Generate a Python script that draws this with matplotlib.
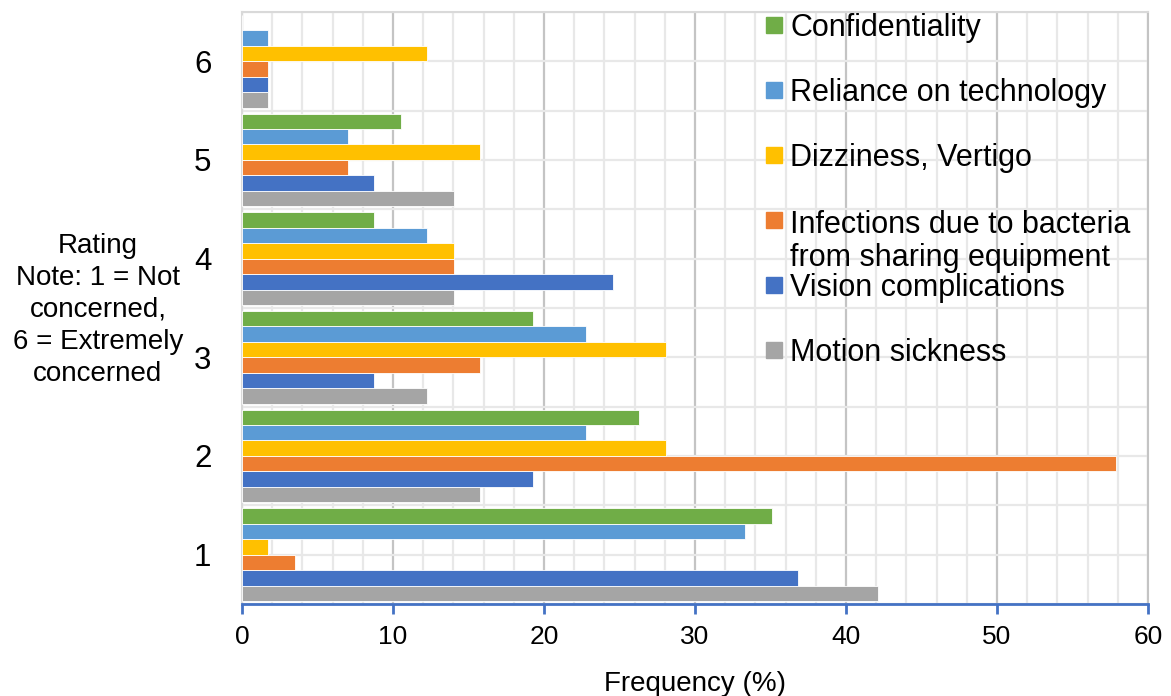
import numpy as np
import matplotlib
matplotlib.use("Agg")
import matplotlib.pyplot as plt
from matplotlib.patches import Rectangle
from matplotlib.ticker import MultipleLocator

plt.rcParams['font.family'] = ['Liberation Sans', 'DejaVu Sans']

ratings = [1, 2, 3, 4, 5, 6]

# series listed bottom-to-top within each rating group
series = [
    "Motion sickness",
    "Vision complications",
    "Infections due to bacteria\nfrom sharing equipment",
    "Dizziness, Vertigo",
    "Reliance on technology",
    "Confidentiality",
]
colors = ["#A5A5A5", "#4472C4", "#ED7D31", "#FFC000", "#5B9BD5", "#70AD47"]

motion = [42.11, 15.79, 12.28, 14.04, 14.04, 1.75]
vision = [36.84, 19.30, 8.77, 24.56, 8.77, 1.75]
infections = [3.51, 57.89, 15.79, 14.04, 7.02, 1.75]
dizziness = [1.75, 28.07, 28.07, 14.04, 15.79, 12.28]
reliance = [33.33, 22.81, 22.81, 12.28, 7.02, 1.75]
confidentiality = [35.09, 26.32, 19.30, 8.77, 10.53, 0.0]
values = [motion, vision, infections, dizziness, reliance, confidentiality]

fig = plt.figure(figsize=(11.71, 6.96), dpi=100)
ax = fig.add_axes([0.2067, 0.1322, 0.7737, 0.8506])

# grouped horizontal bars
group_h = 0.942
bar_h = group_h / len(series)
y = np.array(ratings, dtype=float)
for i, (vals, col) in enumerate(zip(values, colors)):
    offs = -group_h / 2 + bar_h * (i + 0.5)
    ax.barh(y + offs, vals, height=bar_h, color=col, edgecolor="white",
            linewidth=0.6, zorder=3)

ax.set_xlim(0, 60)
ax.set_ylim(0.5, 6.5)

# gridlines
ax.xaxis.set_major_locator(MultipleLocator(10))
ax.xaxis.set_minor_locator(MultipleLocator(2))
ax.yaxis.set_major_locator(MultipleLocator(1))
ax.yaxis.set_minor_locator(MultipleLocator(0.5))
ax.grid(which="major", axis="x", color="#c4c4c4", linewidth=1.6, zorder=0)
ax.grid(which="minor", axis="x", color="#e8e8e8", linewidth=1.6, zorder=0)
ax.grid(which="both", axis="y", color="#e8e8e8", linewidth=1.6, zorder=0)
ax.set_axisbelow(True)

for side in ["top", "right", "left"]:
    ax.spines[side].set_color("#d9d9d9")
    ax.spines[side].set_linewidth(1.5)
ax.spines["right"].set_color("#c4c4c4")
ax.spines["bottom"].set_color("#4472C4")
ax.spines["bottom"].set_linewidth(2)

ax.set_yticks(ratings)
ax.set_yticklabels([str(r) for r in ratings])
ax.tick_params(axis="y", which="both", length=0, pad=22, labelsize=22.5)
ax.tick_params(axis="x", which="major", length=7, width=2, color="#4472C4",
               direction="out", pad=8, labelsize=19)
ax.tick_params(axis="x", which="minor", length=0)

ax.set_xlabel("Frequency (%)", fontsize=20, labelpad=16)

fig.text(98 / 1171, 1 - 310 / 696,
         "Rating\nNote: 1 = Not\nconcerned,\n6 = Extremely\nconcerned",
         ha="center", va="center", multialignment="center", fontsize=20,
         linespacing=1.3)

# legend drawn as squares + labels, top to bottom
W, H = 1171.0, 696.0
slot0, step, line_h = 25, 65, 35
for k, idx in enumerate(range(len(series) - 1, -1, -1)):
    yc = slot0 + k * step
    label = series[idx]
    extra = (label.count("\n")) * line_h
    fig.add_artist(Rectangle((766 / W, 1 - (yc + 8) / H), 16 / W, 16 / H,
                             transform=fig.transFigure, color=colors[idx]))
    fig.text(790 / W, 1 - (yc + 11 + extra) / H, label, ha="left",
             va="baseline", fontsize=22, linespacing=1.15)

fig.savefig("out.png", dpi=100)
